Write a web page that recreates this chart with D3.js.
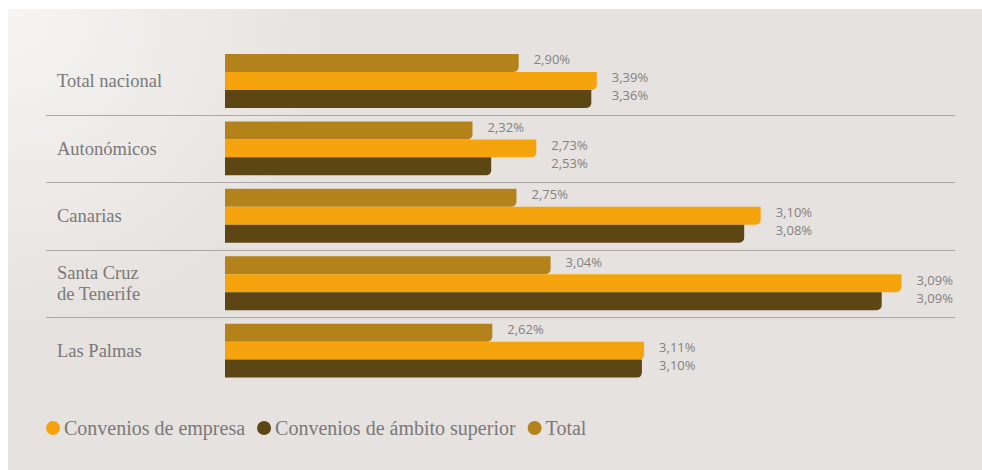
<!DOCTYPE html>
<html>
<head>
<meta charset="utf-8">
<script src="https://cdn.jsdelivr.net/npm/d3@7"></script>
<style>
  html, body { margin: 0; padding: 0; background: #ffffff; }
  svg { display: block; }
</style>
</head>
<body>
<svg id="chart" width="982" height="470"></svg>
<script>
// ---- data ----
const categories = ["Total nacional", "Autonómicos", "Canarias", "Santa Cruz\nde Tenerife", "Las Palmas"];
const seriesKeys = ["total", "empresa", "superior"];
const seriesNames = ["Total", "Convenios de empresa", "Convenios de ámbito superior"];
// printed values (%)
const totalLabels    = [2.90, 2.32, 2.75, 3.04, 2.62];
const empresaLabels  = [3.39, 2.73, 3.10, 3.09, 3.11];
const superiorLabels = [3.36, 2.53, 3.08, 3.09, 3.10];
// bar lengths as drawn in the original (the source does not draw bars to a common scale)
const totalBars    = [2.67, 2.25, 2.65, 2.96, 2.43];
const empresaBars  = [3.38, 2.83, 4.87, 6.15, 3.81];
const superiorBars = [3.33, 2.42, 4.72, 5.97, 3.79];
const legendOrder = ["empresa", "superior", "total"];

const colors = { total: "#b3821b", empresa: "#f6a40d", superior: "#5c4614" };

const W = 982, H = 470;
const svg = d3.select("#chart");

// background panel
const defs = svg.append("defs");
const grad = defs.append("radialGradient").attr("id", "bg")
  .attr("gradientUnits", "userSpaceOnUse")
  .attr("cx", 8).attr("cy", 9).attr("r", 320);
grad.append("stop").attr("offset", "0%").attr("stop-color", "#f6f5f3");
grad.append("stop").attr("offset", "100%").attr("stop-color", "#e6e2df");
svg.append("rect").attr("x", 8).attr("y", 9).attr("width", W - 8).attr("height", H - 9).attr("fill", "url(#bg)");

const fmt = v => d3.format(".2f")(v).replace(".", ",") + "%";

const data = categories.map((c, i) => ({
  cat: c,
  bars: [
    { key: "total", v: totalBars[i], label: totalLabels[i] },
    { key: "empresa", v: empresaBars[i], label: empresaLabels[i] },
    { key: "superior", v: superiorBars[i], label: superiorLabels[i] }
  ]
}));

const y = d3.scaleBand().domain(categories).range([54, 377.6]).paddingInner(0.2).paddingOuter(0);
const ySub = d3.scaleBand().domain(seriesKeys).range([0, y.bandwidth()]).padding(0);
const x = d3.scaleLinear().domain([0, 7]).range([225, 225 + 770]);

// separators
svg.append("g").selectAll("line")
  .data(categories.slice(0, -1))
  .join("line")
  .attr("x1", 46).attr("x2", 955)
  .attr("y1", d => Math.round(y(d) + y.bandwidth() + 7) + 0.5)
  .attr("y2", d => Math.round(y(d) + y.bandwidth() + 7) + 0.5)
  .attr("stroke", "#aaa7a4").attr("stroke-width", 1);

// bar path with rounded bottom-right corner
function barPath(x0, x1, y0, h) {
  const r = Math.min(5, x1 - x0, h / 2);
  return `M${x0},${y0}H${x1}V${y0 + h - r}A${r},${r} 0 0 1 ${x1 - r},${y0 + h}H${x0}Z`;
}

const groups = svg.append("g").selectAll("g.grp")
  .data(data).join("g").attr("class", "grp")
  .attr("transform", d => `translate(0,${y(d.cat)})`);

groups.selectAll("path")
  .data(d => d.bars)
  .join("path")
  .attr("d", b => barPath(x(0), x(b.v), ySub(b.key), ySub.bandwidth()))
  .attr("fill", b => colors[b.key]);

// value labels
groups.each(function(d) {
  const g = d3.select(this);
  const alignX = Math.max(x(d.bars[1].v), x(d.bars[2].v)) + 15;
  d.bars.forEach(b => {
    const lx = b.key === "total" ? x(b.v) + 15 : alignX;
    g.append("text")
      .attr("x", lx)
      .attr("y", ySub(b.key) + ySub.bandwidth() / 2 - 2)
      .attr("dominant-baseline", "middle")
      .attr("font-family", "'Open Sans', sans-serif")
      .attr("font-size", 13)
      .attr("fill", "#838180")
      .text(fmt(b.label));
  });
});

// category labels
groups.each(function(d) {
  const g = d3.select(this);
  const lines = d.cat.split("\n");
  const c = y.bandwidth() / 2 + 6.3;
  const lh = 21;
  const t = g.append("text")
    .attr("font-family", "'Liberation Serif', serif")
    .attr("font-size", 18.5)
    .attr("fill", "#7a7978");
  lines.forEach((ln, i) => {
    t.append("tspan").attr("x", 57)
      .attr("y", c + (i - (lines.length - 1) / 2) * lh)
      .text(ln);
  });
});

// legend
const legend = svg.append("g").attr("transform", "translate(0,428)");
let cx = 53;
legendOrder.forEach(k => {
  const name = seriesNames[seriesKeys.indexOf(k)];
  legend.append("circle").attr("cx", cx).attr("cy", 0).attr("r", 7).attr("fill", colors[k]);
  const t = legend.append("text")
    .attr("x", cx + 11).attr("y", 7)
    .attr("font-family", "'Liberation Serif', serif")
    .attr("font-size", 20)
    .attr("fill", "#7a7978")
    .text(name);
  cx = cx + 11 + t.node().getComputedTextLength() + 19;
});
</script>
</body>
</html>
